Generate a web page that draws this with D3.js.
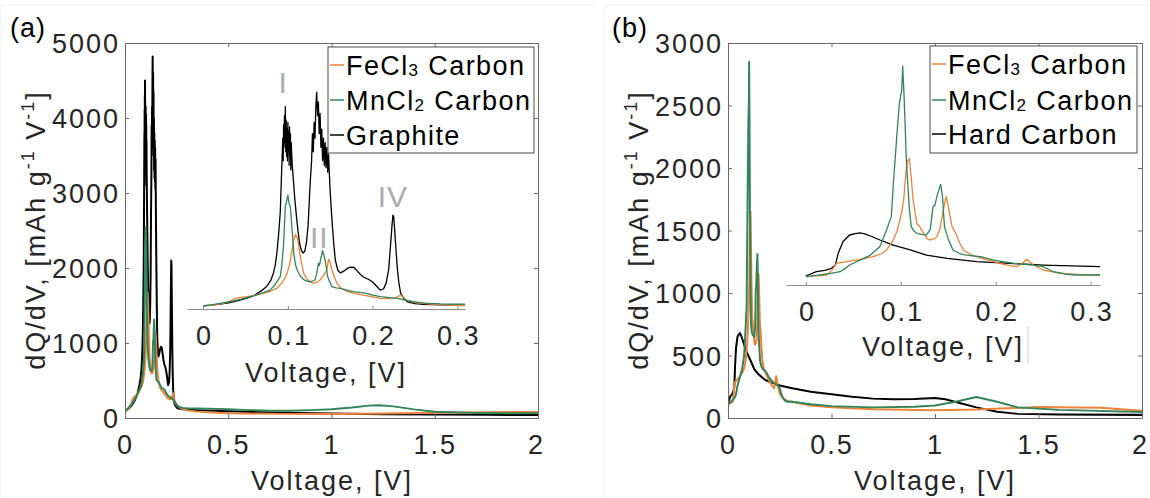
<!DOCTYPE html>
<html><head><meta charset="utf-8">
<script src="https://cdn.jsdelivr.net/npm/d3@7"></script>
<style>body{margin:0;background:#fff}svg{display:block}</style>
</head><body><svg id="c" width="1150" height="498"></svg>
<script>
// ---------------- DATA ----------------
const xTicksMain = [0, 0.5, 1, 1.5, 2];
const xTickLabelsMain = ["0", "0.5", "1", "1.5", "2"];
const yTicksA = [0, 1000, 2000, 3000, 4000, 5000];
const yTickLabelsA = ["0", "1000", "2000", "3000", "4000", "5000"];
const yTicksB = [0, 500, 1000, 1500, 2000, 2500, 3000];
const yTickLabelsB = ["0", "500", "1000", "1500", "2000", "2500", "3000"];
const xTicksInset = [0, 0.1, 0.2, 0.3];
const xTickLabelsInset = ["0", "0.1", "0.2", "0.3"];
const legendA = ["FeCl3 Carbon", "MnCl2 Carbon", "Graphite"];
const legendB = ["FeCl3 Carbon", "MnCl2 Carbon", "Hard Carbon"];
const peakLabels = ["I", "II", "IV"];
const peakVoltages = [0.0945, 0.137, 0.224];
const peakLevels = [4800, 1380, 2280];

// panel (a): [voltage V, dQ/dV mAh g-1 V-1]
const graphiteA = [[0,95],[0.01,110],[0.02,130],[0.03,160],[0.04,200],[0.05,250],[0.06,320],[0.07,440],[0.075,520],[0.08,660],[0.083,820],[0.085,980],[0.087,1250],[0.089,1650],[0.091,2150],[0.092,2700],[0.093,3250],[0.094,3800],[0.0945,3300],[0.095,4100],[0.0955,3600],[0.096,4300],[0.0965,3700],[0.097,4500],[0.0975,3500],[0.098,4200],[0.0985,3400],[0.099,4000],[0.0995,3300],[0.1,4150],[0.1005,3500],[0.101,3950],[0.1015,3200],[0.102,4050],[0.1025,3400],[0.103,3900],[0.1035,3100],[0.104,3700],[0.105,3250],[0.106,3000],[0.108,2500],[0.11,2100],[0.112,1750],[0.114,1450],[0.116,1320],[0.118,1260],[0.12,1300],[0.122,1500],[0.124,1900],[0.126,2700],[0.128,3300],[0.129,3900],[0.13,3500],[0.131,4150],[0.132,3800],[0.133,4500],[0.134,4820],[0.135,4300],[0.136,4600],[0.137,3900],[0.138,4350],[0.139,3600],[0.14,4000],[0.141,3300],[0.142,3800],[0.143,3200],[0.144,3700],[0.145,3150],[0.146,3600],[0.147,3050],[0.148,3450],[0.149,3000],[0.15,2600],[0.152,2000],[0.154,1500],[0.156,1100],[0.159,880],[0.162,820],[0.166,860],[0.17,920],[0.174,950],[0.178,940],[0.182,860],[0.186,780],[0.19,720],[0.195,680],[0.2,620],[0.205,520],[0.209,440],[0.213,470],[0.216,600],[0.219,900],[0.221,1400],[0.223,1900],[0.224,2100],[0.225,2050],[0.227,1500],[0.229,950],[0.231,600],[0.233,380],[0.237,250],[0.241,180],[0.25,140],[0.26,125],[0.28,115],[0.3,110],[0.35,105],[0.5,90],[0.75,70],[1,60],[1.25,50],[1.5,45],[1.75,42],[2,40]];
const feA = [[0,88],[0.012,110],[0.024,147],[0.032,200],[0.038,258],[0.045,280],[0.052,295],[0.062,330],[0.071,369],[0.08,420],[0.087,480],[0.093,600],[0.097,720],[0.099,811],[0.102,1000],[0.105,1327],[0.107,1550],[0.109,1674],[0.111,1600],[0.113,1400],[0.115,1150],[0.117,958],[0.119,800],[0.122,700],[0.126,630],[0.13,590],[0.134,610],[0.138,664],[0.142,760],[0.146,885],[0.148,1120],[0.15,1050],[0.152,885],[0.155,720],[0.158,590],[0.163,480],[0.17,405],[0.18,360],[0.189,330],[0.2,290],[0.209,258],[0.218,250],[0.225,258],[0.23,300],[0.233,330],[0.236,290],[0.24,221],[0.25,170],[0.268,133],[0.29,110],[0.307,100],[0.35,85],[0.4,75],[0.5,62],[0.75,55],[1.0,55],[1.25,60],[1.5,70],[1.75,78],[2.0,80]];
const mnA = [[0,88],[0.015,130],[0.032,184],[0.045,240],[0.063,332],[0.072,390],[0.079,442],[0.085,560],[0.091,737],[0.093,1000],[0.095,1475],[0.097,2285],[0.0985,2400],[0.1,2544],[0.1015,2350],[0.103,2285],[0.105,1770],[0.107,1254],[0.109,1000],[0.111,885],[0.114,770],[0.117,700],[0.12,660],[0.124,626],[0.128,630],[0.132,664],[0.134,800],[0.136,1033],[0.137,980],[0.138,1050],[0.139,1150],[0.141,1312],[0.142,1250],[0.144,1106],[0.147,737],[0.15,600],[0.152,516],[0.157,490],[0.162,480],[0.17,440],[0.177,405],[0.185,390],[0.193,369],[0.2,330],[0.209,295],[0.22,275],[0.229,258],[0.24,215],[0.248,184],[0.26,150],[0.28,135],[0.3,130],[0.35,128],[0.4,125],[0.5,118],[0.6,105],[0.7,98],[0.8,98],[0.9,105],[1.0,118],[1.1,140],[1.18,165],[1.23,170],[1.3,155],[1.4,115],[1.5,82],[1.7,68],[2.0,62]];

// panel (b)
const hardB = [[0,117],[0.011,173],[0.02,190],[0.027,217],[0.031,260],[0.034,412],[0.039,564],[0.046,651],[0.052,668],[0.057,680],[0.062,665],[0.068,638],[0.078,586],[0.092,520],[0.11,456],[0.127,390],[0.149,347],[0.18,304],[0.215,282],[0.25,260],[0.31,238],[0.4,210],[0.5,190],[0.6,170],[0.7,155],[0.8,150],[0.9,152],[1.0,160],[1.05,150],[1.1,128],[1.2,85],[1.3,50],[1.4,33],[1.6,28],[2.0,25]];
const feB = [[0,108],[0.011,120],[0.022,130],[0.028,200],[0.032,282],[0.043,304],[0.057,334],[0.071,369],[0.08,410],[0.085,456],[0.092,586],[0.096,700],[0.099,846],[0.101,950],[0.103,1107],[0.1055,1476],[0.107,1606],[0.109,1650],[0.111,1400],[0.113,1107],[0.117,800],[0.12,760],[0.124,673],[0.128,600],[0.131,586],[0.135,600],[0.138,629],[0.141,720],[0.143,846],[0.145,980],[0.147,1107],[0.148,1150],[0.15,1020],[0.154,760],[0.158,673],[0.162,550],[0.166,456],[0.173,400],[0.18,368],[0.19,330],[0.198,304],[0.205,280],[0.212,260],[0.222,238],[0.227,270],[0.23,304],[0.233,334],[0.236,300],[0.24,260],[0.25,195],[0.268,152],[0.29,135],[0.31,130],[0.4,100],[0.5,85],[0.7,70],[1.0,62],[1.2,68],[1.35,78],[1.5,88],[1.8,82],[2.0,58]];
const mnB = [[0,108],[0.011,125],[0.022,143],[0.036,173],[0.042,220],[0.046,260],[0.057,325],[0.068,390],[0.078,500],[0.085,716],[0.09,890],[0.092,1280],[0.0955,1890],[0.0985,2366],[0.101,2540],[0.102,2850],[0.1035,2450],[0.106,1585],[0.109,1000],[0.111,760],[0.114,700],[0.117,673],[0.122,660],[0.127,650],[0.131,720],[0.134,1020],[0.136,1040],[0.138,1150],[0.142,1310],[0.144,1150],[0.146,760],[0.15,600],[0.155,456],[0.162,410],[0.169,390],[0.184,368],[0.198,325],[0.219,282],[0.24,260],[0.25,238],[0.261,173],[0.275,140],[0.286,130],[0.31,130],[0.4,110],[0.5,95],[0.7,85],[0.9,90],[1.0,100],[1.1,130],[1.2,168],[1.3,130],[1.4,85],[1.6,65],[2.0,48]];

// ---------------- DRAW ----------------
const FONT = '"Liberation Sans", Arial, Helvetica, sans-serif';
const AX = "#6a6a6a";
const TXT = "#262626";
const ORANGE = "#ee8236";
const GREEN = "#33845a";
const BLACK = "#000000";
const svg = d3.select("#c");
const defs = svg.append("defs");

// faint panel frames
svg.append("path").attr("d", "M1,498V5H595").attr("fill", "none").attr("stroke", "#efefef");
svg.append("path").attr("d", "M604,498V5H1150").attr("fill", "none").attr("stroke", "#efefef");

function styleAxis(g, fs, ls) {
  g.attr("color", AX).attr("font-family", FONT).attr("font-size", fs);
  g.selectAll("text").attr("fill", TXT).style("letter-spacing", ls + "px");
}

function mainAxes(x, y, yt, ytl) {
  const [x0, x1] = x.range(), [yb, yt0] = y.range();
  const b = svg.append("g").attr("transform", `translate(0,${yb})`)
    .call(d3.axisBottom(x).tickValues(xTicksMain).tickFormat((d, i) => xTickLabelsMain[i]).tickSizeInner(-4).tickSizeOuter(0).tickPadding(17));
  styleAxis(b, 27, 2);
  b.selectAll(".tick text").attr("dx", (d, i) => i === xTicksMain.length - 1 ? -2 : 0);
  const t = svg.append("g").attr("transform", `translate(0,${yt0})`)
    .call(d3.axisTop(x).tickValues(xTicksMain).tickFormat("").tickSizeInner(-4).tickSizeOuter(0));
  styleAxis(t, 27, 2);
  const l = svg.append("g").attr("transform", `translate(${x0},0)`)
    .call(d3.axisLeft(y).tickValues(yt).tickFormat((d, i) => ytl[i]).tickSizeInner(-4).tickSizeOuter(0).tickPadding(5));
  styleAxis(l, 27, 2);
  l.selectAll(".tick text").attr("dy", "0.36em");
  const r = svg.append("g").attr("transform", `translate(${x1},0)`)
    .call(d3.axisRight(y).tickValues(yt).tickFormat("").tickSizeInner(-4).tickSizeOuter(0));
  styleAxis(r, 27, 2);
}

function clip(id, x, y, w, h) {
  defs.append("clipPath").attr("id", id).append("rect").attr("x", x).attr("y", y).attr("width", w).attr("height", h);
  return `url(#${id})`;
}

function drawLines(series, x, y, clipUrl, width) {
  const line = d3.line().x(d => x(d[0])).y(d => y(d[1]));
  const g = svg.append("g").attr("clip-path", clipUrl);
  series.forEach(s => {
    g.append("path").datum(s.data).attr("d", line).attr("fill", "none")
      .attr("stroke", s.color).attr("stroke-width", width).attr("stroke-linejoin", "round");
  });
}

function richText(sel, str, small) {
  // digits become small subscript-like glyphs
  const parts = str.split(/(\d)/).filter(p => p.length);
  let shifted = false;
  parts.forEach(p => {
    if (/^\d$/.test(p)) { sel.append("tspan").attr("font-size", small).attr("dy", 1).text(p); shifted = true; }
    else { sel.append("tspan").attr("dy", shifted ? -1 : null).text(p); shifted = false; }
  });
}

function legend(x0, y0, w, h, names, colors, rowYs) {
  const g = svg.append("g");
  g.append("rect").attr("x", x0).attr("y", y0).attr("width", w).attr("height", h)
    .attr("fill", "#fff").attr("stroke", "#4a4a4a").attr("stroke-width", 1);
  names.forEach((n, i) => {
    g.append("line").attr("x1", x0 + 2).attr("x2", x0 + 16).attr("y1", rowYs[i]).attr("y2", rowYs[i])
      .attr("stroke", colors[i]).attr("stroke-width", 1.5);
    const t = g.append("text").attr("x", x0 + 18).attr("y", rowYs[i] + 10)
      .attr("font-family", FONT).attr("font-size", 27).attr("fill", "#000").style("letter-spacing", "1.4px");
    richText(t, n, 17);
  });
}

function yLabel(cx, cy) {
  const t = svg.append("text").attr("transform", `translate(${cx},${cy}) rotate(-90)`)
    .attr("text-anchor", "middle").attr("font-family", FONT).attr("font-size", 27)
    .attr("fill", TXT).style("letter-spacing", "2px");
  t.append("tspan").text("dQ/dV, [mAh g");
  t.append("tspan").attr("font-size", 18).attr("dy", -11).text("-1");
  t.append("tspan").attr("dy", 11).text(" V");
  t.append("tspan").attr("font-size", 18).attr("dy", -11).text("-1");
  t.append("tspan").attr("dy", 11).text("]");
}

function xLabel(cx, by, fs) {
  svg.append("text").attr("x", cx).attr("y", by).attr("text-anchor", "middle")
    .attr("font-family", FONT).attr("font-size", fs).attr("fill", TXT)
    .style("letter-spacing", "2px").text("Voltage, [V]");
}

function insetAxis(x, yAxis) {
  const g = svg.append("g").attr("transform", `translate(0,${yAxis})`)
    .call(d3.axisBottom(x).tickValues(xTicksInset).tickFormat((d, i) => xTickLabelsInset[i]).tickSizeInner(-3).tickSizeOuter(0).tickPadding(17));
  styleAxis(g, 27, 2);
  g.attr("color", "#8a8a8a");
  g.selectAll(".tick text").attr("dx", 1);
}

// ===== Panel (a) =====
const xA = d3.scaleLinear([0, 2], [125, 538]);
const yA = d3.scaleLinear([0, 5000], [418, 43]);
const seriesA = [{data: graphiteA, color: BLACK}, {data: feA, color: ORANGE}, {data: mnA, color: GREEN}];
drawLines(seriesA, xA, yA, clip("ca", 125, 43, 413, 375), 2);
mainAxes(xA, yA, yTicksA, yTickLabelsA);

const xIA = d3.scaleLinear([-0.019, 0.309], [187, 465]);
const yIA = d3.scaleLinear([0, 5000], [310, 84]);
drawLines(seriesA, xIA, yIA, clip("cia", 187, 40, 278, 270), 1.3);
insetAxis(xIA, 309);
xLabel(326, 382, 27);
// peak labels
peakLabels.forEach((p, i) => {
  svg.append("text").attr("x", xIA(peakVoltages[i])).attr("y", yIA(peakLevels[i]))
    .attr("text-anchor", "middle").attr("font-family", FONT).attr("font-size", 30)
    .attr("fill", "#ababab").style("letter-spacing", "1px").text(p);
});
legend(328, 47, 206, 106, legendA, [ORANGE, GREEN, BLACK], [65, 100, 135]);
yLabel(45, 230);
xLabel(332, 490, 27);
svg.append("text").attr("x", 10).attr("y", 37).attr("font-family", FONT).attr("font-size", 27)
  .attr("fill", "#000").style("letter-spacing", "1px").text("(a)");

// ===== Panel (b) =====
const xB = d3.scaleLinear([0, 2], [728, 1142]);
const yB = d3.scaleLinear([0, 3000], [418, 43]);
const seriesB = [{data: hardB, color: BLACK}, {data: feB, color: ORANGE}, {data: mnB, color: GREEN}];
drawLines(seriesB, xB, yB, clip("cb", 728, 43, 414, 375), 2);
mainAxes(xB, yB, yTicksB, yTickLabelsB);

const xIB = d3.scaleLinear([-0.021, 0.31], [786, 1100]);
const yIB = d3.scaleLinear([0, 3000], [285, 54.6]);
drawLines(seriesB, xIB, yIB, clip("cib", 786, 40, 314, 245), 1.3);
insetAxis(xIB, 285);
xLabel(943, 356, 27);
svg.append("line").attr("x1", 1028).attr("x2", 1028).attr("y1", 326).attr("y2", 364)
  .attr("stroke", "#d0d0d0").attr("stroke-width", 1);
legend(930, 46, 207, 107, legendB, [ORANGE, GREEN, BLACK], [64, 100, 134]);
yLabel(648, 230);
xLabel(935, 490, 27);
svg.append("text").attr("x", 612).attr("y", 37).attr("font-family", FONT).attr("font-size", 27)
  .attr("fill", "#000").style("letter-spacing", "1px").text("(b)");
</script></body></html>
